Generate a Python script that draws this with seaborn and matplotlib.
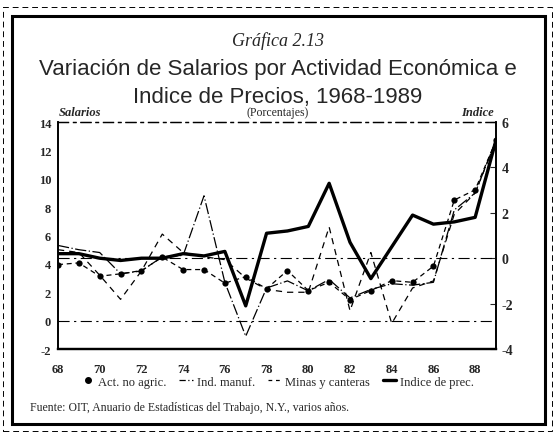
import matplotlib
matplotlib.use("Agg")
import matplotlib.pyplot as plt
from matplotlib.lines import Line2D
from matplotlib.patches import Rectangle
import seaborn as sns
import pandas as pd

years = list(range(68, 90))
act_no_agric = [3.95, 4.07, 3.13, 3.3, 3.53, 4.47, 3.6, 3.6, 2.64, 3.1, 2.25, 3.53,
                2.12, 2.7, 1.48, 2.12, 2.82, 2.7, 3.84, 8.5, 9.22, 12.7]
ind_manuf = [5.3, 5.0, 4.8, 3.3, 3.5, 4.5, 4.6, 8.8, 2.7, -1.1, 2.3, 2.8,
             2.1, 2.9, 1.6, 2.2, 2.6, 2.5, 2.7, 7.8, 9.0, 12.7]
minas = [5.0, 4.8, 3.2, 1.5, 3.5, 6.1, 4.8, 4.5, 4.3, 3.0, 2.2, 2.0,
         2.0, 6.6, 0.7, 4.8, -0.2, 2.3, 2.8, 7.5, 9.0, 12.7]
indice_prec = [0.2, 0.2, 0.0, -0.1, 0.0, 0.0, 0.2, 0.1, 0.3, -2.1, 1.1, 1.2,
               1.4, 3.3, 0.7, -0.9, 0.5, 1.9, 1.5, 1.6, 1.8, 5.2]

left_ticks = [-2, 0, 2, 4, 6, 8, 10, 12, 14]
right_ticks = [-4, -2, 0, 2, 4, 6]
x_ticks = [68, 70, 72, 74, 76, 78, 80, 82, 84, 86, 88]

df = pd.DataFrame({"year": years, "act": act_no_agric, "ind": ind_manuf,
                   "minas": minas, "prec": indice_prec})

sns.set_style("white")
plt.rcParams["font.family"] = ["Liberation Serif", "DejaVu Serif"]
title_font = ["Liberation Sans Narrow", "Liberation Sans", "DejaVu Sans"]

fig = plt.figure(figsize=(5.55, 4.35), dpi=100)
ax = fig.add_axes([0.1045, 0.1954, 0.7892, 0.5218])
ax2 = ax.twinx()

sns.lineplot(data=df, x="year", y="act", ax=ax, color="black", lw=0.9,
             linestyle=(0, (4, 3)), marker="o", markersize=4.5, markeredgewidth=0)
sns.lineplot(data=df, x="year", y="ind", ax=ax, color="black", lw=0.9,
             linestyle=(0, (9, 2, 1, 2)))
sns.lineplot(data=df, x="year", y="minas", ax=ax, color="black", lw=0.9,
             linestyle=(0, (5, 4)))
sns.lineplot(data=df, x="year", y="prec", ax=ax2, color="black", lw=2.4)

ax.axhline(0, color="black", lw=0.8, linestyle=(0, (10, 4, 2, 4)))
ax2.axhline(0, color="black", lw=0.8, linestyle=(0, (10, 4, 2, 4)))

ax.set_xlim(68, 89)
ax.set_ylim(-2, 14)
ax2.set_ylim(-4, 6)
ax.set_xticks(x_ticks)
ax.set_xticklabels([str(t) for t in x_ticks], fontsize=9, fontweight="bold")
ax.set_yticks(left_ticks)
ax.set_yticklabels([str(t) for t in left_ticks], fontsize=9, fontweight="bold")
ax2.set_yticks(right_ticks)
ax2.set_yticklabels([str(t) for t in right_ticks], fontsize=10, fontweight="bold")
ax.set_xlabel("")
ax.set_ylabel("")
ax2.set_ylabel("")
ax.tick_params(axis="y", length=0, pad=5)
ax.tick_params(axis="x", length=0, pad=10)
ax2.tick_params(length=4, direction="in", pad=4)
ax.grid(False)
ax2.grid(False)

for a in (ax, ax2):
    for side in ("left", "right"):
        a.spines[side].set_color("black")
        a.spines[side].set_linewidth(1.2)
    a.spines["bottom"].set_color("black")
    a.spines["bottom"].set_linewidth(1.6)
    a.spines["top"].set_color("black")
    a.spines["top"].set_linewidth(0.9)
    a.spines["top"].set_linestyle((0, (8, 4, 2, 4)))

fig.text(0.5, 0.905, "Gráfica 2.13", ha="center", va="center",
         fontsize=13, style="italic")
fig.text(0.5, 0.84, "Variación de Salarios por Actividad Económica e",
         ha="center", va="center", fontsize=16, family=title_font)
fig.text(0.5, 0.776, "Indice de Precios, 1968-1989",
         ha="center", va="center", fontsize=16, family=title_font)
fig.text(0.105, 0.74, "Salarios", ha="left", va="center", fontsize=9,
         style="italic", fontweight="bold")
fig.text(0.5, 0.74, "(Porcentajes)", ha="center", va="center", fontsize=8.5)
fig.text(0.89, 0.74, "Indice", ha="right", va="center", fontsize=9,
         style="italic", fontweight="bold")

handles = [
    Line2D([], [], color="black", marker="o", markersize=4, lw=0),
    Line2D([], [], color="black", lw=0.9, linestyle=(0, (5, 2, 1, 2))),
    Line2D([], [], color="black", lw=0.9, linestyle=(0, (3, 3))),
    Line2D([], [], color="black", lw=2.4),
]
labels = ["Act. no agric.", "Ind. manuf.", "Minas y canteras", "Indice de prec."]
fig.legend(handles, labels, loc="center", bbox_to_anchor=(0.5, 0.12), ncol=4,
           frameon=False, fontsize=9, handlelength=1.1, handletextpad=0.3,
           columnspacing=1.0)

fig.text(0.054, 0.062, "Fuente: OIT, Anuario de Estadísticas del Trabajo, N.Y., varios años.",
         ha="left", va="center", fontsize=8.5)

fig.patches.append(Rectangle((0.0216, 0.023), 0.960, 0.938, transform=fig.transFigure,
                             fill=False, lw=2.2, ec="black"))
fig.patches.append(Rectangle((0.006, 0.006), 0.989, 0.975, transform=fig.transFigure,
                             fill=False, lw=0.7, ec="black", ls=(0, (6, 4))))

fig.savefig("out.png", dpi=100)
